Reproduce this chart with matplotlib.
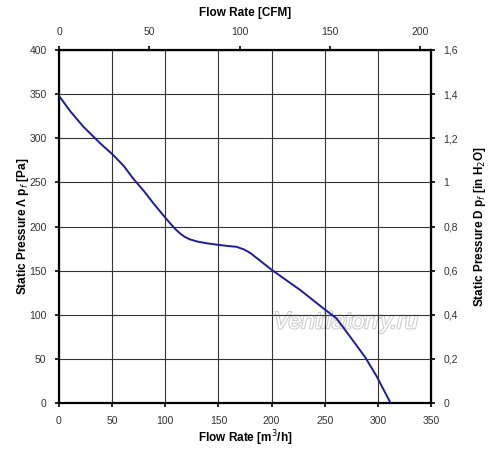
import numpy as np
import matplotlib.pyplot as plt
import matplotlib.patheffects as pe

plt.rcParams['font.family'] = ['Liberation Sans', 'DejaVu Sans']

# Kennlinie
flow_m3h = [0, 11, 23, 39, 51, 61, 70, 80, 89, 100, 105, 110, 114, 118, 123, 130,
            139, 148, 158, 167, 174, 180, 200, 227, 249, 261, 274, 288, 299, 305, 312]
pressure_pa = [348, 330, 313, 294, 281, 268.5, 254, 240, 226, 210, 203, 196.5, 192, 188.5,
               185.5, 183, 181, 179.5, 178, 177, 174, 170, 151, 128, 107, 96, 75, 52, 30,
               16, 0]

m3h_to_cfm = 0.5886
pa_to_inh2o = 1 / 250

cfm_ticks = [0, 50, 100, 150, 200]
inh2o_ticks = [0, 0.2, 0.4, 0.6, 0.8, 1, 1.2, 1.4, 1.6]
inh2o_labels = ['0', '0,2', '0,4', '0,6', '0,8', '1', '1,2', '1,4', '1,6']

fig = plt.figure(figsize=(5, 4.54), dpi=100)
ax = fig.add_axes([0.118, 0.1123, 0.744, 0.7776])

ax.plot(flow_m3h, pressure_pa, color='#1c1c9c', lw=1.4, zorder=3)

ax.set_xlim(0, 350)
ax.set_ylim(0, 400)
ax.set_xticks(np.arange(0, 351, 50))
ax.set_yticks(np.arange(0, 401, 50))
ax.grid(True, color='#333333', lw=0.8)
for s in ax.spines.values():
    s.set_linewidth(1.6)
ax.tick_params(labelsize=7.5, labelcolor='#333333', length=3, width=1.2, pad=6)

ax.set_xlabel('Flow Rate [m$^3$/h]', fontsize=8.5, fontweight='bold', labelpad=2)
ax.set_ylabel('Static Pressure Λ p$_f$ [Pa]', fontsize=8.5, fontweight='bold', labelpad=-1)

# obere Achse CFM
top = ax.secondary_xaxis('top', functions=(lambda x: x * m3h_to_cfm, lambda x: x / m3h_to_cfm))
top.set_xticks(cfm_ticks)
top.tick_params(labelsize=7.5, labelcolor='#333333', length=3, width=1.2, pad=6)
top.set_xlabel('Flow Rate [CFM]', fontsize=8.5, fontweight='bold', labelpad=8)

# rechte Achse in H2O
right = ax.secondary_yaxis('right', functions=(lambda y: y * pa_to_inh2o, lambda y: y / pa_to_inh2o))
right.set_yticks(inh2o_ticks)
right.set_yticklabels(inh2o_labels)
right.tick_params(labelsize=7.5, labelcolor='#333333', length=3, width=1.2, pad=6)
right.set_ylabel('Static Pressure D p$_f$ [in H$_2$O]', fontsize=8.5, fontweight='bold', labelpad=10)

# Wasserzeichen (unter dem Gitter)
ax.text(270, 92, 'Ventilatorry.ru', fontsize=17, style='italic', color='white',
        ha='center', va='center', zorder=1,
        path_effects=[pe.withStroke(linewidth=1.5, foreground='#cccccc')])

fig.savefig('out.png', dpi=100)
